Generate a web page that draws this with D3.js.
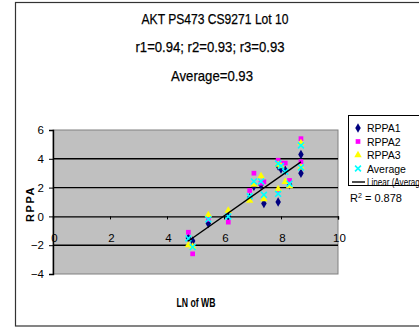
<!DOCTYPE html>
<html>
<head>
<meta charset="utf-8">
<script src="https://cdn.jsdelivr.net/npm/d3@7"></script>
<style>
  html, body { margin: 0; padding: 0; background: #fff; }
  svg { display: block; }
  text { font-family: "Liberation Sans Narrow", "Arial Narrow", "Liberation Sans", Arial, sans-serif; fill: #000; }
</style>
</head>
<body>
<svg id="chart" width="419" height="328"></svg>
<script>
// LN of WB for each sample, with the three RPPA replicates and their average
const lnWB    = [4.75, 4.9, 5.45, 6.15, 6.9, 7.05, 7.3, 7.4, 7.9, 7.9, 8.0, 8.15, 8.3, 8.7, 8.7];
const rppa1   = [-1.5, -1.7, -0.5, 0.0, 1.3, 2.1, 2.2, 0.9, 3.5, 1.0, 3.3, 3.2, 2.2, 4.3, 3.0];
const rppa2   = [-1.1, -2.6, -0.2, -0.4, 1.8, 3.0, 2.3, 2.4, 3.9, 1.8, 3.7, 3.7, 2.5, 5.4, 3.8];
const rppa3   = [-2.0, -2.1, 0.1, 0.4, 1.1, 2.2, 2.8, 1.2, 3.6, 1.9, 3.5, 2.4, 2.1, 5.1, 3.4];
const average = [-1.53, -2.13, -0.2, 0.0, 1.4, 2.43, 2.43, 1.5, 3.67, 1.57, 3.5, 3.1, 2.27, 4.93, 3.4];

// Linear fit of the average series
const trendSlope = 1.39;
const trendIntercept = -8.31;
const trendR2 = "0.878";

const xTicks = [0, 2, 4, 6, 8, 10];
const yTicks = [-4, -2, 0, 2, 4, 6];
const titleLines = ["AKT PS473 CS9271 Lot 10", "r1=0.94; r2=0.93; r3=0.93", "Average=0.93"];
const seriesNames = ["RPPA1", "RPPA2", "RPPA3", "Average"];

const svg = d3.select("#chart");

// outer chart frame
svg.append("rect")
  .attr("x", 15.5).attr("y", 2.5).attr("width", 420).attr("height", 323.5)
  .attr("fill", "#fff").attr("stroke", "#333").attr("stroke-width", 1.2);

const plot = { left: 53, right: 338, top: 130, bottom: 274 };
const x = d3.scaleLinear().domain([0, 10]).range([plot.left, plot.right]);
const y = d3.scaleLinear().domain([-4, 6]).range([plot.bottom, plot.top]);

// plot area
svg.append("rect")
  .attr("x", plot.left).attr("y", plot.top)
  .attr("width", plot.right - plot.left).attr("height", plot.bottom - plot.top)
  .attr("fill", "#c0c0c0").attr("stroke", "#808080").attr("stroke-width", 1);

// horizontal gridlines
svg.append("g").selectAll("line")
  .data(yTicks.filter(v => v !== 6 && v !== -4 && v !== 0))
  .join("line")
  .attr("x1", plot.left).attr("x2", plot.right)
  .attr("y1", d => y(d)).attr("y2", d => y(d))
  .attr("stroke", "#000").attr("stroke-width", 1.4);

// y axis
const yAxis = svg.append("g")
  .attr("transform", `translate(${plot.left},0)`)
  .call(d3.axisLeft(y).tickValues(yTicks).tickSize(4).tickPadding(4).tickFormat(d3.format("d")));
yAxis.select(".domain").attr("stroke", "#000").attr("stroke-width", 1.4);
yAxis.selectAll(".tick line").attr("stroke", "#000");
yAxis.selectAll(".tick text")
  .style("font-family", "'Liberation Sans Narrow', 'Arial Narrow', sans-serif")
  .style("font-size", "11.5px").attr("fill", "#000").attr("dx", "-1");

// x axis crossing at zero
const xAxis = svg.append("g")
  .attr("transform", `translate(0,${y(0)})`)
  .call(d3.axisBottom(x).tickValues(xTicks).tickSize(3).tickPadding(14).tickFormat(d3.format("d")));
xAxis.select(".domain").attr("stroke", "#000").attr("stroke-width", 1.4);
xAxis.selectAll(".tick line").attr("stroke", "#000");
xAxis.selectAll(".tick text")
  .style("font-family", "'Liberation Sans Narrow', 'Arial Narrow', sans-serif")
  .style("font-size", "11.5px").attr("fill", "#000").attr("dx", "1");

// series markers
const symbols = {
  RPPA1: { type: d3.symbolDiamond, size: 26, color: "#000080" },
  RPPA2: { type: d3.symbolSquare, size: 22, color: "#ff00ff" },
  RPPA3: { type: d3.symbolTriangle, size: 24, color: "#ffff00" },
  Average: { type: d3.symbolX, size: 24, color: "#00ffff" }
};
const seriesData = { RPPA1: rppa1, RPPA2: rppa2, RPPA3: rppa3, Average: average };

function drawSymbol(g, name, cx, cy) {
  const s = symbols[name];
  const p = g.append("path")
    .attr("d", d3.symbol().type(s.type).size(s.size)())
    .attr("transform", `translate(${cx},${cy})`);
  if (name === "Average") p.attr("fill", "none").attr("stroke", s.color).attr("stroke-width", 1.6);
  else p.attr("fill", s.color);
  return p;
}

const marks = svg.append("g");
seriesNames.forEach(name => {
  const g = marks.append("g");
  seriesData[name].forEach((v, i) => drawSymbol(g, name, x(lnWB[i]), y(v)));
});

// trendline over the span of the data
const [xMin, xMax] = d3.extent(lnWB);
svg.append("line")
  .attr("x1", x(xMin)).attr("y1", y(trendSlope * xMin + trendIntercept))
  .attr("x2", x(xMax)).attr("y2", y(trendSlope * xMax + trendIntercept))
  .attr("stroke", "#000").attr("stroke-width", 1.4);

// titles
const titleWidths = [147, 149, 82];
svg.append("g").selectAll("text")
  .data(titleLines)
  .join("text")
  .attr("x", (d, i) => [215, 210, 212][i])
  .attr("y", (d, i) => 23.5 + i * 28.5)
  .attr("text-anchor", "middle")
  .attr("textLength", (d, i) => titleWidths[i])
  .attr("lengthAdjust", "spacingAndGlyphs")
  .style("font-size", "15px")
  .style("stroke", "#000").style("stroke-width", 0.25)
  .text(d => d);

// axis titles
svg.append("text")
  .attr("transform", `translate(34,${(plot.top + plot.bottom) / 2 + 2}) rotate(-90)`)
  .attr("text-anchor", "middle")
  .style("font-size", "11px").style("font-weight", "bold").style("letter-spacing", "1.5px")
  .text("RPPA");
svg.append("text")
  .attr("x", 196).attr("y", 307)
  .attr("text-anchor", "middle")
  .attr("textLength", 39).attr("lengthAdjust", "spacingAndGlyphs")
  .style("font-size", "12px").style("font-weight", "bold")
  .text("LN of WB");

// legend
const legend = svg.append("g");
legend.append("rect")
  .attr("x", 348.5).attr("y", 115.5).attr("width", 80).attr("height", 70)
  .attr("fill", "#fff").attr("stroke", "#000").attr("stroke-width", 1);
const legendItems = seriesNames.concat(["Linear (Average)"]);
legendItems.forEach((name, i) => {
  const cy = 128 + i * 13.5;
  if (symbols[name]) drawSymbol(legend, name, 358, cy);
  else legend.append("line").attr("x1", 352).attr("x2", 365).attr("y1", cy).attr("y2", cy)
    .attr("stroke", "#000").attr("stroke-width", 1.4);
  const t = legend.append("text").attr("x", 367).attr("y", cy + 4)
    .style("font-size", "10.5px").text(name);
  if (!symbols[name]) t.attr("textLength", 60).attr("lengthAdjust", "spacingAndGlyphs");
});

// R squared label
const r2 = svg.append("text").attr("x", 350).attr("y", 202).style("font-size", "11px");
r2.append("tspan").text("R");
r2.append("tspan").attr("dy", -4).style("font-size", "7px").text("2");
r2.append("tspan").attr("dy", 4).text(" = " + trendR2);
</script>
</body>
</html>
